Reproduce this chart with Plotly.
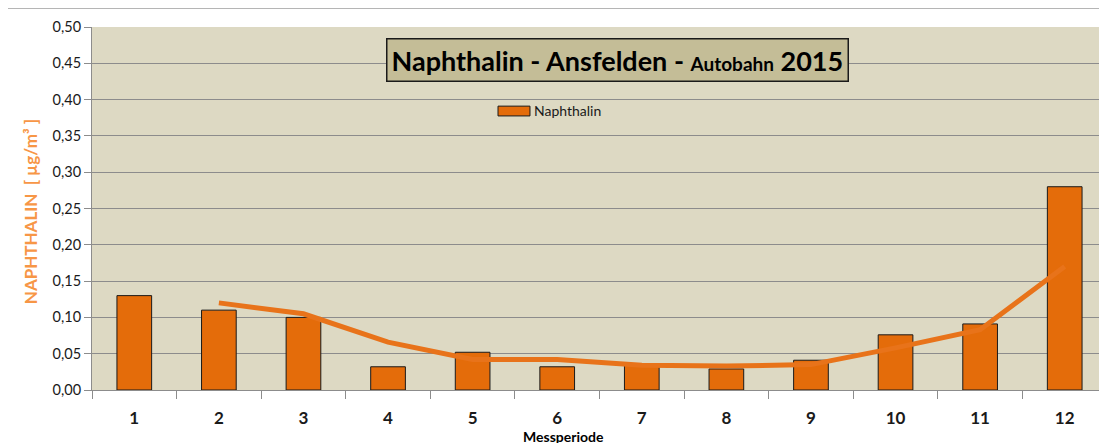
import plotly.graph_objects as go

# ── Daten ──────────────────────────────────────────────
PERIODS = [str(i) for i in range(1, 13)]
NAPHTHALIN = [0.130, 0.110, 0.100, 0.032, 0.052, 0.032, 0.034, 0.029, 0.041, 0.076, 0.091, 0.280]
# gleitender Mittelwert (2 Perioden)
TREND = [None, 0.120, 0.105, 0.066, 0.042, 0.042, 0.034, 0.033, 0.035, 0.058, 0.083, 0.170]
Y_TICKS = [0.0, 0.05, 0.10, 0.15, 0.20, 0.25, 0.30, 0.35, 0.40, 0.45, 0.50]

# ── Farben ─────────────────────────────────────────────
PLOT_BG = "#DDD9C3"
BAR_COLOR = "#E46C0A"
LINE_COLOR = "#E8731A"
GRID = "#8C8C8C"
TITLE_BG = "#C4BD97"
AXIS_TITLE = "#F79646"
FONT = "Lato, 'Open Sans', sans-serif"

fig = go.Figure()

fig.add_trace(go.Bar(
    x=PERIODS,
    y=NAPHTHALIN,
    name="Naphthalin",
    marker=dict(color=BAR_COLOR, line=dict(color="#1A1A1A", width=1)),
    showlegend=False,
))

fig.add_trace(go.Scatter(
    x=PERIODS,
    y=TREND,
    mode="lines",
    line=dict(color=LINE_COLOR, width=5),
    showlegend=False,
    connectgaps=False,
))

# die Seite hat 8px Rand (body margin) -> Ränder entsprechend versetzt
fig.update_layout(
    width=1107,
    height=443,
    margin=dict(l=84, r=8, t=19, b=61),
    paper_bgcolor="white",
    plot_bgcolor=PLOT_BG,
    separators=",.",
    bargap=0.59,
    font=dict(family=FONT, size=13, color="#1A1A1A"),
    xaxis=dict(
        type="category",
        range=[-0.5, 11.5],
        showgrid=False,
        showline=True, linecolor=GRID, linewidth=1,
        ticks="outside", tickson="boundaries", ticklen=8, tickcolor=GRID,
        ticklabelstandoff=13,
        tickfont=dict(size=17, family=FONT, weight="bold"),
    ),
    yaxis=dict(
        range=[0, 0.5],
        tickvals=Y_TICKS,
        tickformat=".2f",
        showgrid=True, gridcolor=GRID, gridwidth=1,
        showline=True, linecolor=GRID, linewidth=1,
        ticks="outside", ticklen=7, tickcolor=GRID,
        tickfont=dict(size=14.5),
        zeroline=False,
    ),
    annotations=[
        dict(
            text="<b>Naphthalin - Ansfelden - <span style='font-size:19px'>Autobahn</span> 2015</b>",
            x=0.518, y=0.909, xref="paper", yref="paper",
            xanchor="center", yanchor="middle", showarrow=False,
            font=dict(size=27, color="black"),
            bgcolor=TITLE_BG, bordercolor="#1A1A1A", borderwidth=1.5, borderpad=4,
        ),
        # Legende (breites Farbfeld wie im Original)
        dict(
            text="Naphthalin",
            x=0.4335, y=0.7686, xref="paper", yref="paper",
            xanchor="left", yanchor="middle", showarrow=False,
            font=dict(size=14, color="#1A1A1A"),
        ),
        dict(
            text="<b>NAPHTHALIN  [ µg/m³ ]</b>",
            x=-0.061, y=0.49, xref="paper", yref="paper",
            xanchor="center", yanchor="middle", showarrow=False,
            textangle=-90, font=dict(size=17, color=AXIS_TITLE, weight="bold"),
        ),
        dict(
            text="<b>Messperiode</b>",
            x=0.465, y=-0.098, xref="paper", yref="paper",
            xanchor="center", yanchor="top", showarrow=False,
            font=dict(size=14, color="black"),
        ),
    ],
    shapes=[
        dict(
            type="rect", xref="paper", yref="paper",
            x0=-0.0837, x1=1.02, y0=-0.3, y1=1.052,
            line=dict(color="#868686", width=1), fillcolor="rgba(0,0,0,0)",
            layer="below",
        ),
        dict(
            type="rect", xref="paper", yref="paper",
            x0=0.40, x1=0.4315, y0=0.755, y1=0.782,
            line=dict(color="#1A1A1A", width=1), fillcolor=BAR_COLOR,
        ),
    ],
)

fig.write_html("out.html")
